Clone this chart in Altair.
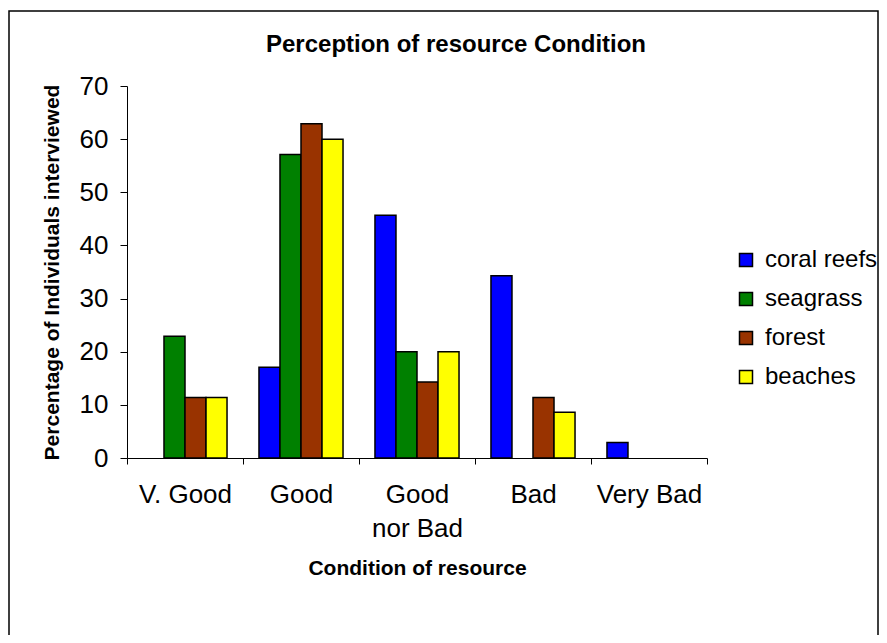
import altair as alt
import pandas as pd

categories = ["V. Good", "Good", "Good nor Bad", "Bad", "Very Bad"]
series = ["coral reefs", "seagrass", "forest", "beaches"]
coral_reefs = [0, 17.1, 45.7, 34.3, 2.9]
seagrass = [22.9, 57.1, 20.0, 0, 0]
forest = [11.4, 62.9, 14.3, 11.4, 0]
beaches = [11.4, 60.0, 20.0, 8.6, 0]
colors = ["#0000FF", "#008000", "#993300", "#FFFF00"]

rows = []
for s, vals in zip(series, [coral_reefs, seagrass, forest, beaches]):
    for c, v in zip(categories, vals):
        rows.append({"condition": c, "resource": s, "pct": v})
df = pd.DataFrame(rows)

FONT = "Liberation Sans"
LBL = 26

bars = alt.Chart(df).transform_filter("datum.pct > 0").mark_bar(
    stroke="black", strokeWidth=1.5
).encode(
    x=alt.X(
        "condition:N",
        sort=categories,
        scale=alt.Scale(domain=categories, paddingInner=0, paddingOuter=0),
        axis=alt.Axis(
            title="Condition of resource",
            labelAngle=0,
            tickBand="extent",
            tickSize=6,
            labelPadding=17,
            labelFontSize=LBL,
            labelFont=FONT,
            labelColor="black",
            labelLineHeight=34,
            labelExpr="datum.label == 'Good nor Bad' ? ['Good', 'nor Bad'] : datum.label",
            titleFont=FONT,
            titleFontSize=21,
            titleFontWeight="bold",
            titleColor="black",
            titleY=110,
            titleBaseline="middle",
            domainColor="black",
            tickColor="black",
        ),
    ),
    xOffset=alt.XOffset(
        "resource:N",
        sort=series,
        scale=alt.Scale(domain=series, paddingInner=0, paddingOuter=0.76),
    ),
    y=alt.Y(
        "pct:Q",
        scale=alt.Scale(domain=[0, 70]),
        axis=alt.Axis(
            title="Percentage of Individuals interviewed",
            values=list(range(0, 71, 10)),
            grid=False,
            tickSize=7,
            labelPadding=12,
            labelFontSize=LBL,
            labelFont=FONT,
            labelColor="black",
            titleFont=FONT,
            titleFontSize=21,
            titleFontWeight="bold",
            titleColor="black",
            titleX=-75,
            titleBaseline="middle",
            domainColor="black",
            tickColor="black",
        ),
    ),
    color=alt.Color(
        "resource:N",
        sort=series,
        scale=alt.Scale(domain=series, range=colors),
        legend=alt.Legend(
            title=None,
            orient="none",
            legendX=607,
            legendY=162,
            symbolType="square",
            symbolSize=169,
            symbolStrokeColor="black",
            symbolStrokeWidth=1.5,
            symbolOpacity=1,
            labelFontSize=24,
            labelFont=FONT,
            labelColor="black",
            labelOffset=7,
            rowPadding=15,
            padding=0,
        ),
    ),
)

border = alt.Chart(pd.DataFrame({"a": [0]})).mark_rect(
    filled=False, stroke="black", strokeWidth=1.5
).encode(
    x=alt.value(-118),
    x2=alt.value(751),
    y=alt.value(-75),
    y2=alt.value(620),
)

chart = alt.layer(border, bars).properties(
    width=580,
    height=372,
    autosize="none",
    background="white",
    padding={"left": 119, "top": 78, "right": 172, "bottom": 177},
    title=alt.TitleParams(
        "Perception of resource Condition",
        font=FONT,
        fontSize=24,
        fontWeight="bold",
        color="black",
        anchor="middle",
        dx=39,
        offset=-47,
    ),
).configure_view(strokeWidth=0)

chart.save("out.html", embed_options={"renderer": "svg", "actions": False})
